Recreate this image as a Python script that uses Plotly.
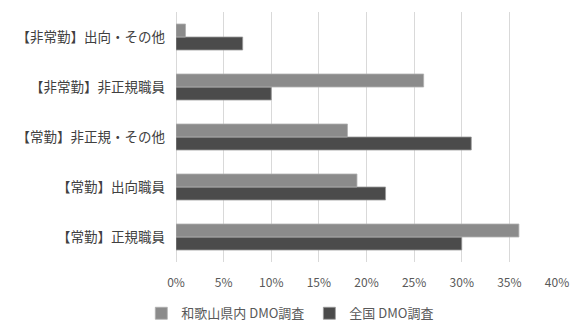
import plotly.graph_objects as go

categories = ["【常勤】正規職員", "【常勤】出向職員", "【常勤】非正規・その他", "【非常勤】非正規職員", "【非常勤】出向・その他"]
wakayama = [0.36, 0.19, 0.18, 0.26, 0.01]
zenkoku = [0.30, 0.22, 0.31, 0.10, 0.07]
tick_vals = [0, 0.05, 0.10, 0.15, 0.20, 0.25, 0.30, 0.35, 0.40]
tick_text = ["0%", "5%", "10%", "15%", "20%", "25%", "30%", "35%", "40%"]

FONT = "Noto Sans CJK JP"

fig = go.Figure()
fig.add_trace(go.Bar(
    y=categories, x=zenkoku, orientation="h", name="全国 DMO調査",
    marker=dict(color="#4b4b4b", line=dict(color="#9a9a9a", width=0.8)),
))
fig.add_trace(go.Bar(
    y=categories, x=wakayama, orientation="h", name="和歌山県内 DMO調査",
    marker=dict(color="#8b8b8b", line=dict(color="#b0b0b0", width=0.8)),
))

fig.update_layout(
    width=571, height=323,
    margin=dict(l=176, r=14, t=12, b=61, autoexpand=False),
    paper_bgcolor="white", plot_bgcolor="white",
    barmode="group", bargap=0.48, bargroupgap=0,
    font=dict(family=FONT, size=12, color="#595959"),
    xaxis=dict(
        range=[0, 0.40], tickvals=tick_vals, ticktext=tick_text,
        showgrid=True, gridcolor="#d9d9d9", gridwidth=1,
        zeroline=True, zerolinecolor="#d9d9d9", zerolinewidth=1,
        showline=False, ticks="", tickfont=dict(size=12, color="#595959"),
        ticklabelstandoff=12,
        automargin=False, fixedrange=True,
    ),
    yaxis=dict(
        categoryorder="array", categoryarray=categories,
        showgrid=False, zeroline=False, showline=False, ticks="",
        ticklabelstandoff=10, tickfont=dict(size=13.5, color="#404040"),
        automargin=False, fixedrange=True,
    ),
    legend=dict(
        orientation="h", x=0.30, xanchor="center",
        yref="container", y=0.03, yanchor="middle",
        traceorder="reversed", font=dict(size=13, color="#595959"),
        itemwidth=30,
    ),
    showlegend=True,
)

fig.write_html("out.html")
